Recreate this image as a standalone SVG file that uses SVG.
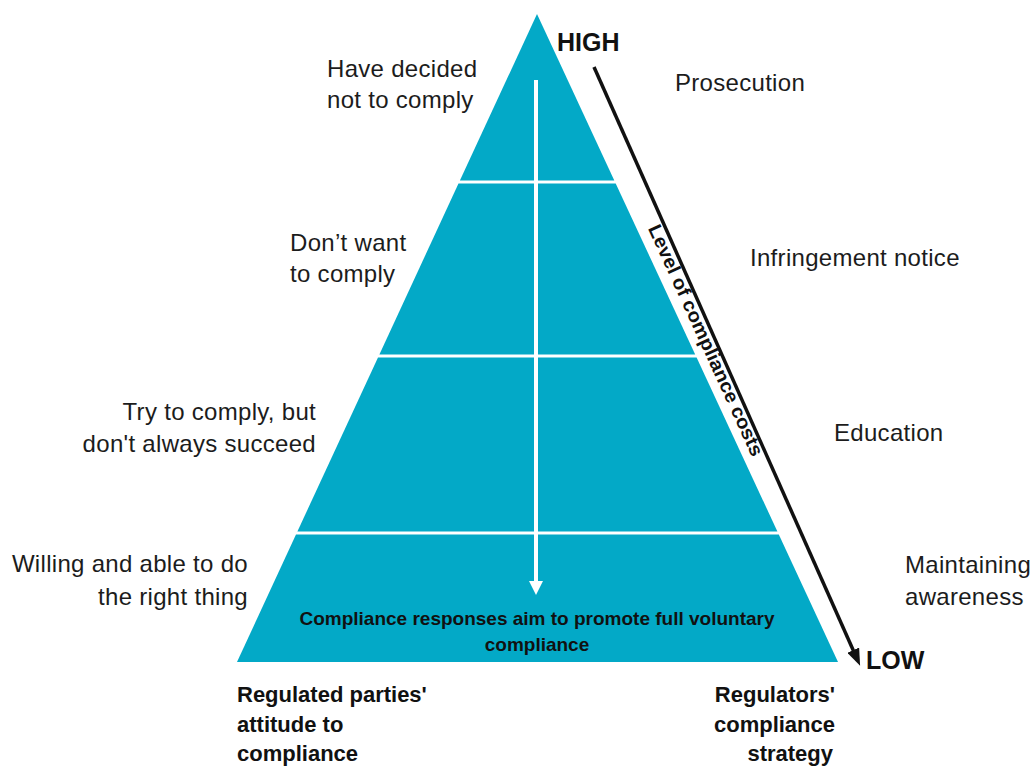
<svg xmlns="http://www.w3.org/2000/svg" width="1030" height="769" viewBox="0 0 1030 769">
  <defs>
    <style>
      .band { fill: #03a9c7; }
      .lbl { font-family: "Liberation Sans", Arial, sans-serif; font-size: 24px; letter-spacing: 0.3px; fill: #1c1c1c; }
      .bold { font-family: "Liberation Sans", Arial, sans-serif; font-weight: bold; fill: #111; }
      .axis { font-size: 25px; }
      .foot { font-size: 22px; }
      .inner { font-size: 19px; }
      .cost { font-size: 19px; }
      .end { text-anchor: end; }
      .mid { text-anchor: middle; }
    </style>
    <marker id="headBlack" viewBox="0 0 17 13" refX="2" refY="6.5" markerWidth="17" markerHeight="13" markerUnits="userSpaceOnUse" orient="auto">
      <path d="M0,0 L17,6.5 L0,13 Z" fill="#111"/>
    </marker>
    <marker id="headWhite" viewBox="0 0 14 14" refX="1" refY="7" markerWidth="14" markerHeight="14" markerUnits="userSpaceOnUse" orient="auto">
      <path d="M0,0 L14,7 L0,14 Z" fill="#fff"/>
    </marker>
  </defs>
  <rect width="1030" height="769" fill="#fff"/>

  <!-- pyramid levels, top to bottom -->
  <g id="level-prosecution">
    <polygon class="band" points="537,14 614.3,180.5 459.9,180.5"/>
    <text class="lbl" x="327" y="77">Have decided</text>
    <text class="lbl" x="327" y="108">not to comply</text>
    <text class="lbl" x="675" y="91">Prosecution</text>
  </g>
  <g id="level-infringement">
    <polygon class="band" points="458.5,183.5 615.7,183.5 695.2,354.5 379.4,354.5"/>
    <text class="lbl" x="290" y="251">Don’t want</text>
    <text class="lbl" x="290" y="282">to comply</text>
    <text class="lbl" x="750" y="266">Infringement notice</text>
  </g>
  <g id="level-education">
    <polygon class="band" points="378,357.5 696.6,357.5 777.4,531.5 297.4,531.5"/>
    <text class="lbl end" x="316" y="420">Try to comply, but</text>
    <text class="lbl end" x="316" y="452">don't always succeed</text>
    <text class="lbl" x="834" y="441">Education</text>
  </g>
  <g id="level-awareness">
    <polygon class="band" points="296,534.5 778.8,534.5 838,662 237,662"/>
    <text class="lbl end" x="248" y="572">Willing and able to do</text>
    <text class="lbl end" x="248" y="605">the right thing</text>
    <text class="lbl" x="905" y="573">Maintaining</text>
    <text class="lbl" x="905" y="605">awareness</text>
    <text class="bold inner mid" x="537" y="625">Compliance responses aim to promote full voluntary</text>
    <text class="bold inner mid" x="537" y="651">compliance</text>
  </g>

  <!-- connectors -->
  <g id="connectors">
    <line x1="536" y1="80" x2="536" y2="582" stroke="#fff" stroke-width="4" marker-end="url(#headWhite)"/>
    <line x1="594" y1="67" x2="854" y2="652" stroke="#111" stroke-width="3.5" marker-end="url(#headBlack)"/>
  </g>

  <!-- cost scale labels -->
  <g id="cost-scale">
    <text class="bold axis" x="557" y="51">HIGH</text>
    <text class="bold axis" x="866" y="669">LOW</text>
    <text class="bold cost mid" transform="translate(700 343) rotate(65.5)" x="0" y="0" textLength="252" lengthAdjust="spacingAndGlyphs">Level of compliance costs</text>
  </g>

  <!-- axis captions -->
  <g id="caption-parties">
    <text class="bold foot" x="237" y="702">Regulated parties'</text>
    <text class="bold foot" x="237" y="732">attitude to</text>
    <text class="bold foot" x="237" y="761">compliance</text>
  </g>
  <g id="caption-regulators">
    <text class="bold foot end" x="835" y="702">Regulators'</text>
    <text class="bold foot end" x="835" y="732">compliance</text>
    <text class="bold foot end" x="833" y="761">strategy</text>
  </g>
</svg>
